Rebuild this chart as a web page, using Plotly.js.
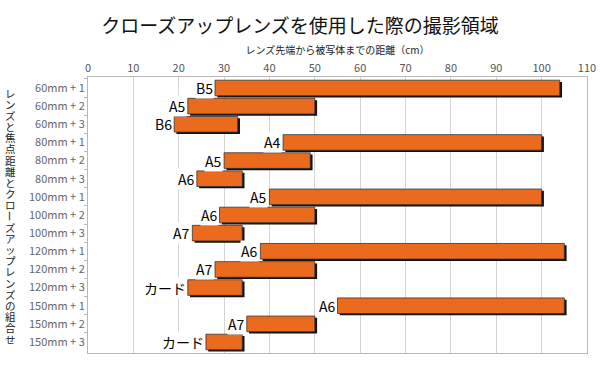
<!DOCTYPE html>
<html>
<head>
<meta charset="utf-8">
<script src="https://cdn.plot.ly/plotly-3.0.1.min.js"></script>
<style>html,body{margin:0;padding:0;background:#fff;}#chart{width:600px;height:365px;}</style>
</head>
<body>
<div id="chart"></div>
<script>
// Data
const categories = ["60mm + 1","60mm + 2","60mm + 3","80mm + 1","80mm + 2","80mm + 3","100mm + 1","100mm + 2","100mm + 3","120mm + 1","120mm + 2","120mm + 3","150mm + 1","150mm + 2","150mm + 3"];
const nearDist = [28,22,19,43,30,24,40,29,23,38,28,22,55,35,26];
const farDist  = [104,50,33,100,49,34,100,50,34,105,50,34,105,50,34];
const paperSize = ["B5","A5","B6","A4","A5","A6","A5","A6","A7","A6","A7","カード","A6","A7","カード"];
const xTicks = [0,10,20,30,40,50,60,70,80,90,100,110];
const chartTitle = "クローズアップレンズを使用した際の撮影領域";
const xTitle = "レンズ先端から被写体までの距離（cm）";
const yTitle = "レンズと焦点距離とクローズアップレンズの組合せ";

const FONT = "Noto Sans CJK JP, Noto Sans, sans-serif";
const lengths = farDist.map((f,i)=>f-nearDist[i]);

const shadow = {
  type:'bar', orientation:'h', y:categories, x:lengths,
  base: nearDist.map(v=>v+0.5), width:0.86, offset:-0.33,
  marker:{color:'#111', line:{width:0}}, hoverinfo:'skip', showlegend:false
};
const bars = {
  type:'bar', orientation:'h', y:categories, x:lengths, base:nearDist,
  width:0.86, offset:-0.43,
  marker:{color:'#EA6B1E', line:{color:'#333', width:0.8}}, showlegend:false
};

const annotations = categories.map((c,i)=>({
  x: nearDist[i], y: c, xref:'x', yref:'y', text: paperSize[i],
  xanchor:'right', yanchor:'middle', xshift:-1, showarrow:false,
  bgcolor:'#fff', borderpad:0,
  font:{family:FONT, size:14, color:'#000'}
}));

// vertical (upright) y-axis title, one character per line
const chars = Array.from(yTitle);
const topPx = 93, botPx = 339, plotTop = 77, plotBot = 353;
chars.forEach((ch,k)=>{
  const py = topPx + (botPx-topPx)*k/(chars.length-1);
  annotations.push({
    x:-0.156, y:(plotBot-py)/(plotBot-plotTop), xref:'paper', yref:'paper',
    text: ch, showarrow:false, xanchor:'center', yanchor:'middle',
    textangle: ch==='ー' ? 90 : 0, borderpad:0,
    font:{family:FONT, size:10.5, color:'#222'}
  });
});

const layout = {
  width:600, height:365,
  margin:{l:88, r:13, t:77, b:12},
  paper_bgcolor:'#fff', plot_bgcolor:'#fff',
  barmode:'overlay',
  title:{text:chartTitle, x:0.5, xanchor:'center', y:0.927, yanchor:'middle', yref:'container',
         font:{family:FONT, size:19, color:'#111'}},
  xaxis:{
    side:'top', range:[0,110], tickvals:xTicks, ticktext:xTicks.map(String),
    showgrid:true, gridcolor:'#d4d4d4', gridwidth:1,
    showline:true, linecolor:'#b8b8b8', linewidth:1, mirror:true,
    ticks:'', zeroline:false,
    tickfont:{family:FONT, size:11, color:'#555'},
    title:{text:xTitle, standoff:2, font:{family:FONT, size:10, color:'#222'}}
  },
  yaxis:{
    type:'category', autorange:'reversed',
    showline:true, linecolor:'#b8b8b8', linewidth:1, mirror:true,
    ticks:'outside', ticklen:3, tickcolor:'#b8b8b8', tickson:'boundaries',
    showgrid:false, zeroline:false,
    tickfont:{family:FONT, size:11, color:'#666'}
  },
  annotations: annotations
};

Plotly.newPlot('chart',[shadow,bars],layout,{displayModeBar:false,staticPlot:true});
</script>
</body>
</html>
